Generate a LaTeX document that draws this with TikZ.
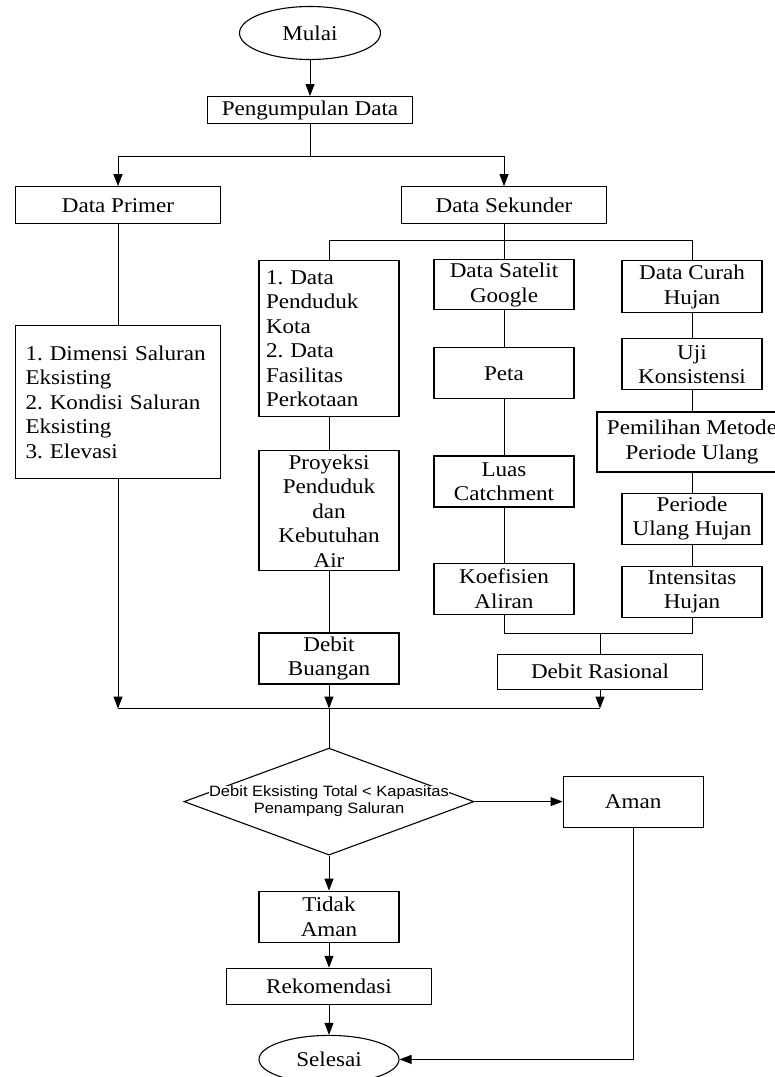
\documentclass[tikz,border=0pt]{standalone}
\usepackage{fontspec}
\setmainfont{Liberation Serif}[FakeStretch=1.1]
\newfontfamily\cekfont{Liberation Sans}[FakeStretch=1.1]
\usepackage{tikz}
\usetikzlibrary{shapes.geometric, arrows.meta, positioning}
\frenchspacing

\begin{document}
\begin{tikzpicture}[
    node distance=36pt,
    box/.style={rectangle, draw, line width=1.1pt, inner sep=2pt,
                minimum width=140pt, minimum height=51pt,
                align=center, font=\fontsize{21}{24.5}\selectfont},
    widebox/.style={box, minimum width=205pt},
    oval/.style={ellipse, draw, line width=1.1pt, minimum width=141pt,
                 minimum height=53pt, font=\fontsize{21}{24.5}\selectfont},
    cekbox/.style={diamond, draw, line width=1.1pt, inner sep=0pt,
                   minimum width=290pt, minimum height=107pt},
    cektext/.style={font=\cekfont\fontsize{15}{17}\selectfont, fill=white, inner sep=0.5pt},
    line/.style={line width=1pt},
    arrow/.style={-{Triangle[length=12pt, width=9pt]}, line width=1pt},
]
    \useasboundingbox (0,0) rectangle (775pt,-1077pt);

    \node[oval] (mulai) at (310pt,-33pt) {Mulai};
    \node[widebox, minimum height=27pt, below=36pt of mulai] (kumpul) {Pengumpulan Data};
    \node[widebox, minimum height=37pt, below=62pt of kumpul, xshift=-192pt] (primer) {Data Primer};
    \node[widebox, minimum height=37pt, below=62pt of kumpul, xshift=194pt] (sekunder) {Data Sekunder};
    \node[box, minimum height=153pt, text width=185pt, inner xsep=10pt, align=left,
          below=101pt of primer] (dimensi)
          {1. Dimensi Saluran\\Eksisting\\2. Kondisi Saluran\\Eksisting\\3. Elevasi};
    \node[box, minimum height=156pt, text width=126pt, inner xsep=7pt, align=left,
          below=36pt of sekunder, xshift=-175pt] (penduduk)
          {1. Data\\Penduduk\\Kota\\2. Data\\Fasilitas\\Perkotaan};
    \node[box, minimum height=50pt, below=35pt of sekunder] (satelit) {Data Satelit\\Google};
    \node[box, minimum height=52pt, below=36pt of sekunder, xshift=188pt] (curah) {Data Curah\\Hujan};

    \node[box, minimum height=120pt, below=33pt of penduduk] (proyeksi)
          {Proyeksi\\Penduduk\\dan\\Kebutuhan\\Air};
    \node[box, below=61pt of proyeksi] (buangan) {Debit\\Buangan};

    \node[box, below=37pt of satelit] (peta) {Peta};
    \node[box, below=56pt of peta] (luas) {Luas\\Catchment};
    \node[box, below=55pt of luas] (koef) {Koefisien\\Aliran};

    \node[box, below=25pt of curah] (uji) {Uji\\Konsistensi};
    \node[box, minimum width=190pt, minimum height=60pt, below=21pt of uji] (pemilihan)
          {Pemilihan Metode\\Periode Ulang};
    \node[box, below=20pt of pemilihan] (periode) {Periode\\Ulang Hujan};
    \node[box, below=21pt of periode] (intensitas) {Intensitas\\Hujan};

    \node[widebox, minimum height=35pt, below=39pt of koef, xshift=96pt] (rasional) {Debit Rasional};
    \coordinate[below=24pt of buangan] (temu);

    \node[cekbox, below=63pt of buangan] (cek) {};
    \node[cektext, yshift=8.5pt] (cekatas) at (cek) {Debit Eksisting Total < Kapasitas};
    \node[cektext, yshift=-8.5pt] (cekbawah) at (cek) {Penampang Saluran};
    \node[box, right=88pt of cek] (aman) {Aman};
    \node[box, below=35pt of cek] (tidak) {Tidak\\Aman};
    \node[widebox, minimum height=36pt, below=25pt of tidak] (rekomendasi) {Rekomendasi};
    \node[oval, minimum width=140pt, minimum height=48pt, below=30pt of rekomendasi] (selesai) {Selesai};

    \draw[arrow] (mulai) -- (kumpul);
    \draw[arrow] (kumpul.south) -- ++(0,-32pt) -| (primer.north);
    \draw[arrow] (kumpul.south) -- ++(0,-32pt) -| (sekunder.north);
    \draw[line] (primer) -- (dimensi);

    \draw[line] (sekunder.south) -- ++(0,-16pt) coordinate (bagi);
    \draw[line] (penduduk.north) |- (bagi) -| (curah.north);
    \draw[line] (bagi) -- (satelit);
    \draw[line] (penduduk) -- (proyeksi) -- (buangan);
    \draw[line] (satelit) -- (peta) -- (luas) -- (koef);
    \draw[line] (curah) -- (uji) -- (pemilihan) -- (periode) -- (intensitas);
    \draw[line] (koef.south) -- ++(0,-19pt) coordinate (sambung) -| (intensitas.south);
    \draw[line] (sambung -| rasional) -- (rasional);

    \draw[arrow] (dimensi) -- (dimensi |- temu);
    \draw[arrow] (buangan) -- (temu);
    \draw[arrow] (rasional) -- (rasional |- temu);
    \draw[line] (dimensi |- temu) -- (rasional |- temu);
    \draw[line] (temu) -- (cek);

    \draw[arrow] (cek) -- (aman);
    \draw[arrow] (cek) -- (tidak);
    \draw[arrow] (tidak) -- (rekomendasi);
    \draw[arrow] (rekomendasi) -- (selesai);
    \draw[arrow] (aman) |- (selesai);
\end{tikzpicture}
\end{document}
